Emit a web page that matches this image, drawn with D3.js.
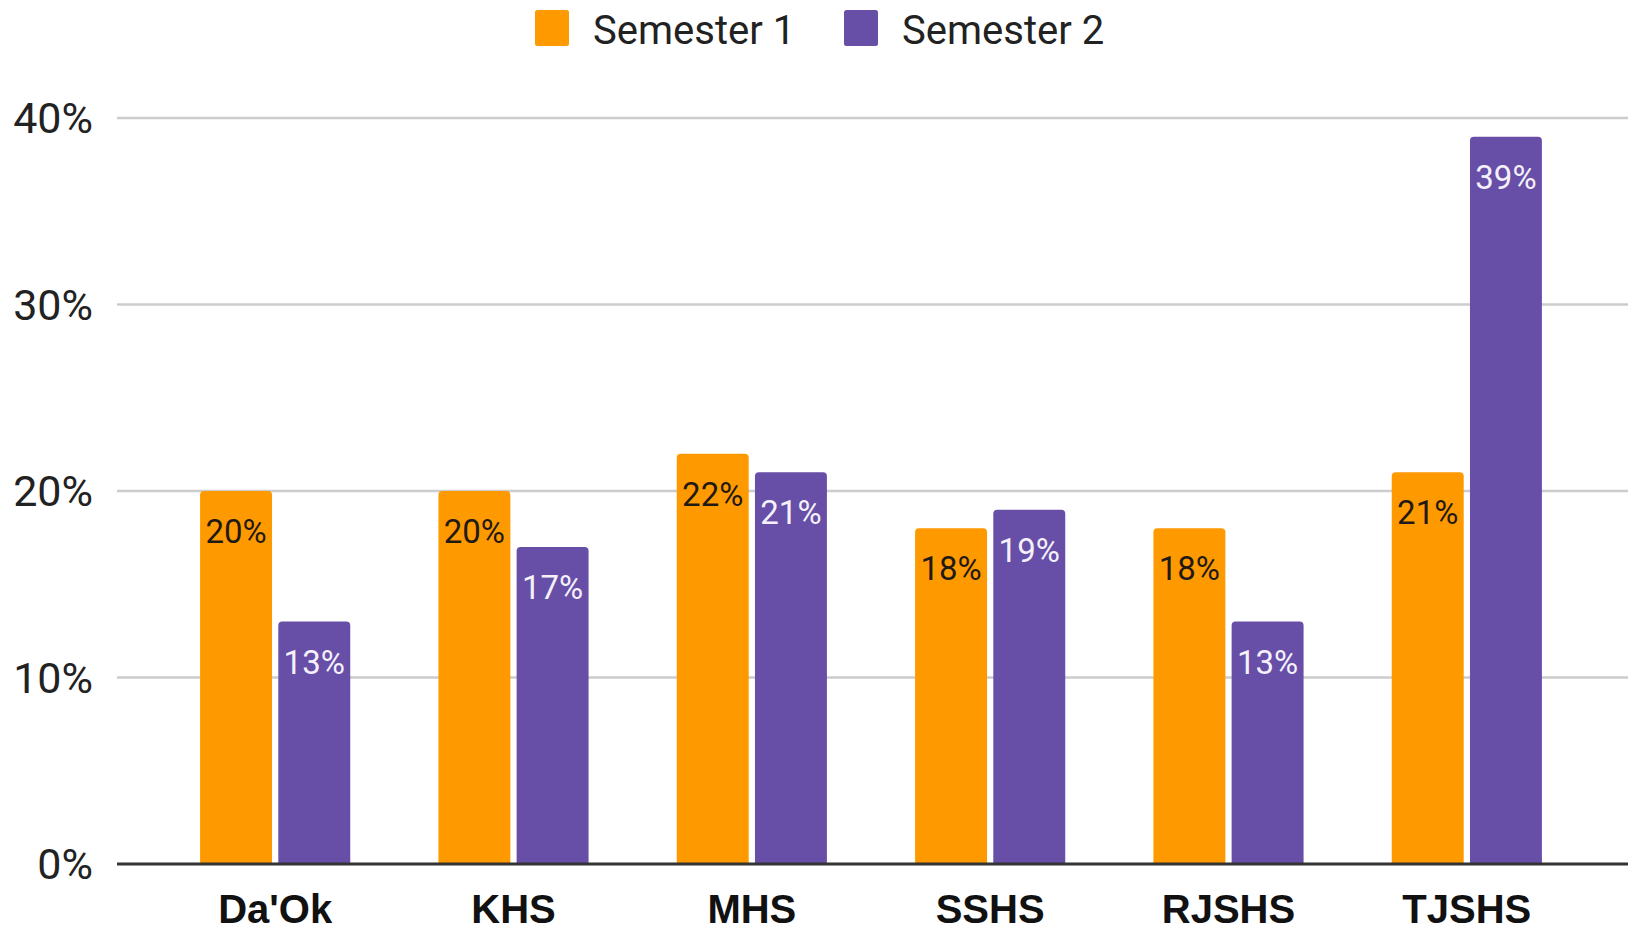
<!DOCTYPE html>
<html>
<head>
<meta charset="utf-8">
<script src="https://cdn.jsdelivr.net/npm/d3@7"></script>
<style>
  html, body { margin: 0; padding: 0; background: #fff; }
  svg { display: block; }
</style>
</head>
<body>
<div id="chart"></div>
<script>
var schools = ["Da'Ok", "KHS", "MHS", "SSHS", "RJSHS", "TJSHS"];
var seriesNames = ["Semester 1", "Semester 2"];
var semester1 = [0.20, 0.20, 0.22, 0.18, 0.18, 0.21];
var semester2 = [0.13, 0.17, 0.21, 0.19, 0.13, 0.39];
var yTicks = [0, 0.1, 0.2, 0.3, 0.4];
var colors = ["#ff9900", "#674ea7"];
var labelColors = ["#1f1a14", "#f4f1fa"];

var width = 1630, height = 932;
var plotLeft = 117, plotRight = 1628;

var svg = d3.select("#chart").append("svg")
    .attr("width", width)
    .attr("height", height);

var x0 = d3.scaleBand()
    .domain(schools)
    .range([156, 1586])
    .paddingInner(0.37)
    .paddingOuter(0.185);

var x1 = d3.scaleBand()
    .domain(seriesNames)
    .range([0, x0.bandwidth()])
    .paddingInner(0.08);

var y = d3.scaleLinear()
    .domain([0, 0.4])
    .range([864, 118]);

// gridlines
svg.append("g").attr("class", "grid")
    .selectAll("line")
    .data(yTicks.filter(function (d) { return d > 0; }))
    .enter().append("line")
    .attr("x1", plotLeft).attr("x2", plotRight)
    .attr("y1", function (d) { return y(d); })
    .attr("y2", function (d) { return y(d); })
    .style("stroke", "#cccccc")
    .style("stroke-width", 2.5);

// y axis labels
svg.append("g").attr("class", "axis axis--y")
    .selectAll("text")
    .data(yTicks)
    .enter().append("text")
    .attr("x", 93)
    .attr("y", function (d) { return y(d); })
    .attr("dy", "0.36em")
    .style("text-anchor", "end")
    .style("font", '43px Roboto, "Liberation Sans", Arial, sans-serif')
    .style("fill", "#222")
    .text(function (d) { return Math.round(d * 100) + "%"; });

// rounded-top bar path
function barPath(x, yTop, w, h, r) {
    r = Math.min(r, h, w / 2);
    return "M" + x + "," + (yTop + h) +
        "V" + (yTop + r) +
        "Q" + x + "," + yTop + " " + (x + r) + "," + yTop +
        "H" + (x + w - r) +
        "Q" + (x + w) + "," + yTop + " " + (x + w) + "," + (yTop + r) +
        "V" + (yTop + h) + "Z";
}

var rows = schools.map(function (s, i) {
    return { school: s, values: [semester1[i], semester2[i]] };
});

var groups = svg.append("g").attr("class", "nodes")
    .selectAll("g")
    .data(rows)
    .enter().append("g")
    .attr("transform", function (d) { return "translate(" + x0(d.school) + ",0)"; });

groups.selectAll("path")
    .data(function (d) {
        return d.values.map(function (v, k) { return { key: seriesNames[k], k: k, value: v }; });
    })
    .enter().append("path")
    .attr("d", function (d) {
        return barPath(x1(d.key), y(d.value), x1.bandwidth(), y(0) - y(d.value), 4);
    })
    .style("fill", function (d) { return colors[d.k]; });

groups.selectAll("text")
    .data(function (d) {
        return d.values.map(function (v, k) { return { key: seriesNames[k], k: k, value: v }; });
    })
    .enter().append("text")
    .attr("x", function (d) { return x1(d.key) + x1.bandwidth() / 2; })
    .attr("y", function (d) { return y(d.value) + 52; })
    .style("text-anchor", "middle")
    .style("font", '33px Roboto, "Liberation Sans", Arial, sans-serif')
    .style("fill", function (d) { return labelColors[d.k]; })
    .text(function (d) { return Math.round(d.value * 100) + "%"; });

// baseline
svg.append("line")
    .attr("x1", plotLeft).attr("x2", plotRight)
    .attr("y1", y(0)).attr("y2", y(0))
    .style("stroke", "#333")
    .style("stroke-width", 3);

// x axis labels
svg.append("g").attr("class", "axis axis--x")
    .selectAll("text")
    .data(schools)
    .enter().append("text")
    .attr("x", function (d) { return x0(d) + x0.bandwidth() / 2; })
    .attr("y", 923)
    .style("text-anchor", "middle")
    .style("font", 'bold 40px "Liberation Sans", Arial, sans-serif')
    .style("fill", "#111")
    .text(function (d) { return d; });

// legend
var legendX = [535, 844];
var legend = svg.append("g").attr("class", "legend")
    .selectAll("g")
    .data(seriesNames)
    .enter().append("g")
    .attr("transform", function (d, i) { return "translate(" + legendX[i] + ",10)"; });

legend.append("rect")
    .attr("width", 34).attr("height", 36)
    .attr("rx", 2.5)
    .style("fill", function (d, i) { return colors[i]; });

legend.append("text")
    .attr("x", 58)
    .attr("y", 34)
    .style("font", '40px Roboto, "Liberation Sans", Arial, sans-serif')
    .style("fill", "#222")
    .text(function (d) { return d; });
</script>
</body>
</html>
